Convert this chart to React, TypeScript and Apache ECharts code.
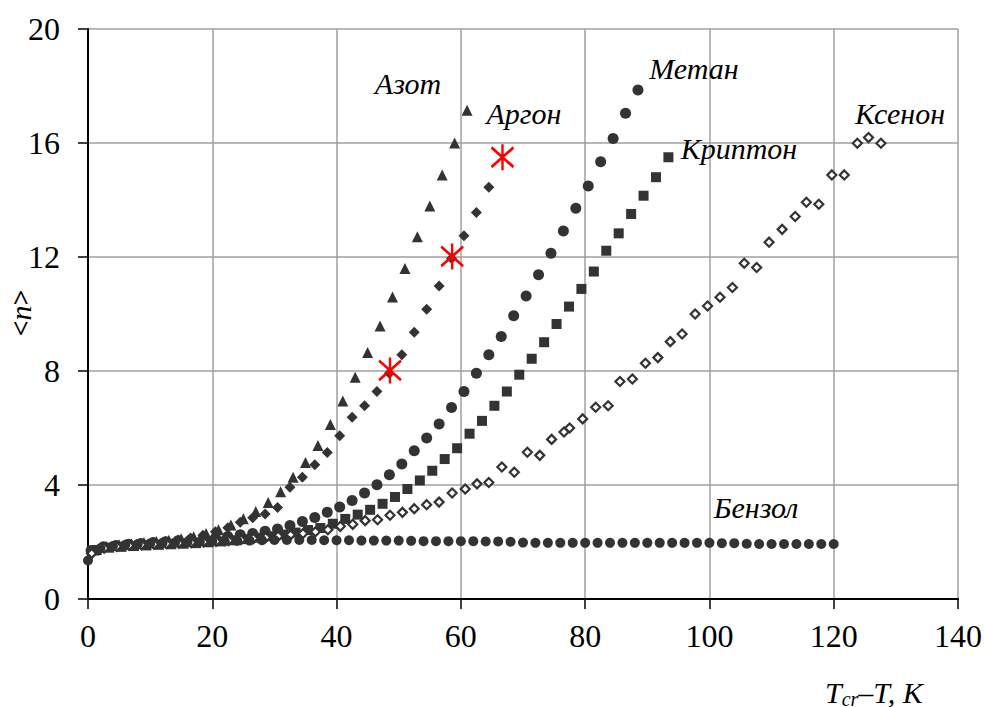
import React, { useEffect, useRef } from "react";
import * as echarts from "echarts";

// ---- Data ----
const azotX = [1, 3, 5, 7, 9, 11, 13, 15, 17, 19, 21, 23, 25, 27, 29, 31, 33, 35, 37, 39, 41, 43, 45, 47, 49, 51, 53, 55, 57, 59, 61];
const azotY = [1.72, 1.84, 1.9, 1.94, 1.98, 2.02, 2.06, 2.11, 2.18, 2.3, 2.43, 2.6, 2.82, 3.07, 3.39, 3.76, 4.27, 4.79, 5.39, 6.12, 6.95, 7.78, 8.65, 9.58, 10.6, 11.6, 12.71, 13.79, 14.88, 16.0, 17.15];

const argonX = [0.5, 2.5, 4.5, 6.5, 8.5, 10.5, 12.5, 14.5, 16.5, 18.5, 20.5, 22.5, 24.5, 26.5, 28.5, 30.5, 32.5, 34.5, 36.5, 38.5, 40.5, 42.5, 44.5, 46.5, 48.5, 50.5, 52.5, 54.5, 56.5, 58.5, 60.5, 62.5, 64.5];
const argonY = [1.6, 1.8, 1.86, 1.9, 1.94, 1.98, 2.02, 2.07, 2.14, 2.24, 2.36, 2.5, 2.69, 2.85, 2.98, 3.21, 3.92, 4.27, 4.71, 5.14, 5.73, 6.38, 6.78, 7.28, 7.92, 8.57, 9.36, 10.17, 10.98, 11.95, 12.75, 13.56, 14.45];

const metanX = [0.5, 2.5, 4.5, 6.5, 8.5, 10.5, 12.5, 14.5, 16.5, 18.5, 20.5, 22.5, 24.5, 26.5, 28.5, 30.5, 32.5, 34.5, 36.5, 38.5, 40.5, 42.5, 44.5, 46.5, 48.5, 50.5, 52.5, 54.5, 56.5, 58.5, 60.5, 62.5, 64.5, 66.5, 68.5, 70.5, 72.5, 74.5, 76.5, 78.5, 80.5, 82.5, 84.5, 86.5, 88.5];
const metanY = [1.7, 1.83, 1.88, 1.92, 1.95, 1.98, 2.01, 2.04, 2.07, 2.1, 2.14, 2.19, 2.25, 2.3, 2.38, 2.46, 2.58, 2.72, 2.86, 3.04, 3.23, 3.46, 3.72, 4.01, 4.36, 4.74, 5.2, 5.65, 6.14, 6.72, 7.28, 7.92, 8.57, 9.21, 9.94, 10.63, 11.38, 12.13, 12.91, 13.71, 14.49, 15.34, 16.16, 17.04, 17.86];

const kriptonX = [1.4, 3.4, 5.4, 7.4, 9.4, 11.4, 13.4, 15.4, 17.4, 19.4, 21.4, 23.4, 25.4, 27.4, 29.4, 31.4, 33.4, 35.4, 37.4, 39.4, 41.4, 43.4, 45.4, 47.4, 49.4, 51.4, 53.4, 55.4, 57.4, 59.4, 61.4, 63.4, 65.4, 67.4, 69.4, 71.4, 73.4, 75.4, 77.4, 79.4, 81.4, 83.4, 85.4, 87.4, 89.4, 91.4, 93.4];
const kriptonY = [1.72, 1.8, 1.83, 1.86, 1.88, 1.9, 1.92, 1.94, 1.96, 1.99, 2.02, 2.06, 2.1, 2.15, 2.2, 2.26, 2.33, 2.42, 2.49, 2.64, 2.81, 2.96, 3.13, 3.34, 3.58, 3.86, 4.16, 4.5, 4.91, 5.29, 5.8, 6.25, 6.78, 7.28, 7.87, 8.43, 9.01, 9.65, 10.26, 10.88, 11.49, 12.22, 12.83, 13.51, 14.15, 14.8, 15.5];

const ksenonX = [0.6, 2.6, 4.6, 6.6, 8.6, 10.6, 12.6, 14.6, 16.6, 18.6, 20.6, 22.6, 24.6, 26.6, 28.6, 30.6, 32.6, 34.6, 36.6, 38.6, 40.6, 42.6, 44.6, 46.6, 48.6, 50.6, 52.5, 54.5, 56.5, 58.6, 60.7, 62.6, 64.5, 66.6, 68.6, 70.7, 72.7, 74.6, 76.6, 77.5, 79.6, 81.7, 83.7, 85.6, 87.6, 89.7, 91.7, 93.7, 95.6, 97.7, 99.7, 101.7, 103.7, 105.6, 107.6, 109.6, 111.7, 113.8, 115.6, 117.6, 119.7, 121.7, 123.8, 125.6, 127.6];
const ksenonY = [1.6, 1.78, 1.84, 1.88, 1.9, 1.92, 1.94, 1.96, 1.98, 2.0, 2.02, 2.05, 2.08, 2.12, 2.16, 2.2, 2.25, 2.3, 2.36, 2.43, 2.55, 2.62, 2.75, 2.78, 2.94, 3.04, 3.17, 3.31, 3.4, 3.72, 3.86, 4.04, 4.09, 4.63, 4.45, 5.15, 5.04, 5.6, 5.86, 6.0, 6.32, 6.73, 6.78, 7.63, 7.72, 8.27, 8.47, 9.03, 9.3, 10.0, 10.28, 10.59, 10.93, 11.78, 11.63, 12.52, 12.97, 13.42, 13.92, 13.85, 14.88, 14.88, 15.99, 16.19, 15.99];

const benzolX = [0, 2, 4, 6, 8, 10, 12, 14, 16, 18, 20, 22, 24, 26, 28, 30, 32, 34, 36, 38, 40, 42, 44, 46, 48, 50, 52, 54, 56, 58, 60, 62, 64, 66, 68, 70, 72, 74, 76, 78, 80, 82, 84, 86, 88, 90, 92, 94, 96, 98, 100, 102, 104, 106, 108, 110, 112, 114, 116, 118, 120];
const benzolY = [1.35, 1.78, 1.86, 1.9, 1.93, 1.95, 1.97, 1.98, 2.0, 2.01, 2.02, 2.03, 2.04, 2.05, 2.06, 2.07, 2.07, 2.07, 2.07, 2.06, 2.06, 2.06, 2.05, 2.05, 2.05, 2.05, 2.04, 2.03, 2.03, 2.03, 2.03, 2.03, 2.02, 2.02, 2.01, 1.98, 1.97, 1.97, 1.97, 1.97, 1.97, 1.97, 1.97, 1.97, 1.97, 1.97, 1.97, 1.97, 1.97, 1.97, 1.97, 1.96, 1.96, 1.94, 1.93, 1.93, 1.93, 1.93, 1.93, 1.93, 1.93];

const starX = [48.6, 58.6, 66.7];
const starY = [8.02, 12.02, 15.5];

const xMin = 0, xMax = 140, xStep = 20;
const yMin = 0, yMax = 20, yStep = 4;

const seriesNames = ["Азот", "Аргон", "Метан", "Криптон", "Ксенон", "Бензол"];

const zip = (xs: number[], ys: number[]) => xs.map((x, i) => [x, ys[i]]);

const FONT = "Liberation Serif, Times New Roman, serif";
const MARK = "#333333";

export default function App() {
  const ref = useRef<HTMLDivElement>(null);

  useEffect(() => {
    if (!ref.current) return;
    const chart = echarts.init(ref.current, null, { renderer: "svg" });

    const label = (text: string, x: number, y: number) => ({
      type: "text",
      x,
      y,
      z: 100,
      style: {
        text,
        fontFamily: FONT,
        fontSize: 30,
        fontStyle: "italic",
        fill: "#000",
        align: "center",
        verticalAlign: "middle",
      },
    });

    const scatter = (name: string, data: number[][], symbol: string, size: any, itemStyle: any, z = 2) => ({
      name,
      type: "scatter",
      data,
      symbol,
      symbolSize: size,
      itemStyle: { opacity: 1, ...itemStyle },
      z,
      emphasis: { disabled: true },
    });

    const tickLabel = (margin: number) => ({
      show: true,
      color: "#000",
      fontFamily: FONT,
      fontSize: 32,
      fontStyle: "normal",
      fontWeight: "normal",
      margin,
    });

    chart.setOption({
      animation: false,
      backgroundColor: "#ffffff",
      textStyle: { fontFamily: FONT },
      grid: { left: 88, right: 26, top: 29, bottom: 108, containLabel: false, outerBoundsMode: "none" },
      xAxis: {
        type: "value",
        min: xMin,
        max: xMax,
        interval: xStep,
        axisLine: { show: true, onZero: false, lineStyle: { color: "#000", width: 2 } },
        axisTick: { show: true, inside: false, length: 10, lineStyle: { color: "#000", width: 1.5 } },
        axisLabel: tickLabel(21),
        splitLine: { show: true, lineStyle: { color: "#a0a0a0", width: 1.5 } },
      },
      yAxis: {
        type: "value",
        min: yMin,
        max: yMax,
        interval: yStep,
        axisLine: { show: true, onZero: false, lineStyle: { color: "#000", width: 2 } },
        axisTick: { show: true, inside: false, length: 10, lineStyle: { color: "#000", width: 1.5 } },
        axisLabel: tickLabel(28),
        splitLine: { show: true, lineStyle: { color: "#a0a0a0", width: 1.5 } },
      },
      series: [
        scatter(seriesNames[0], zip(azotX, azotY), "triangle", 11, { color: MARK }),
        scatter(seriesNames[1], zip(argonX, argonY), "diamond", 11, { color: MARK }),
        scatter(seriesNames[2], zip(metanX, metanY), "circle", 11, { color: MARK }),
        scatter(seriesNames[3], zip(kriptonX, kriptonY), "rect", 10, { color: MARK }),
        scatter(seriesNames[4], zip(ksenonX, ksenonY), "diamond", 9, { color: "#ffffff", borderColor: MARK, borderWidth: 2.2 }),
        scatter(seriesNames[5], zip(benzolX, benzolY), "circle", 10, { color: MARK }, 3),
        scatter("stars", zip(starX, starY), "path://M10,0 L10,24 M0,3 L20,21 M0,21 L20,3", [22, 26], { color: "transparent", borderColor: "#ff0000", borderWidth: 2.6 }, 5),
      ],
      graphic: [
        label(seriesNames[0], 408, 83),
        label(seriesNames[1], 524, 113),
        label(seriesNames[2], 694, 68),
        label(seriesNames[3], 739, 148),
        label(seriesNames[4], 900, 113),
        label(seriesNames[5], 756, 507),
        {
          type: "text",
          x: 20,
          y: 313,
          rotation: Math.PI / 2,
          z: 100,
          style: {
            text: "{b|<}{i|n}{b|>}",
            align: "center",
            verticalAlign: "middle",
            fill: "#000",
            rich: {
              b: { fontFamily: FONT, fontSize: 28, fontWeight: "bold", fill: "#000" },
              i: { fontFamily: FONT, fontSize: 30, fontStyle: "italic", fill: "#000" },
            },
          },
        },
        {
          type: "text",
          x: 825,
          y: 692,
          z: 100,
          style: {
            text: "{a|T}{s|cr}{a|–T, K}",
            align: "left",
            verticalAlign: "middle",
            fill: "#000",
            rich: {
              a: { fontFamily: FONT, fontSize: 30, fontStyle: "italic", fill: "#000", lineHeight: 34, verticalAlign: "middle" },
              s: { fontFamily: FONT, fontSize: 20, fontStyle: "italic", fill: "#000", lineHeight: 20, verticalAlign: "bottom" },
            },
          },
        },
      ],
    });

    return () => chart.dispose();
  }, []);

  return (
    <div
      ref={ref}
      style={{ position: "absolute", left: 0, top: 0, width: 984, height: 707, background: "#fff" }}
    />
  );
}
